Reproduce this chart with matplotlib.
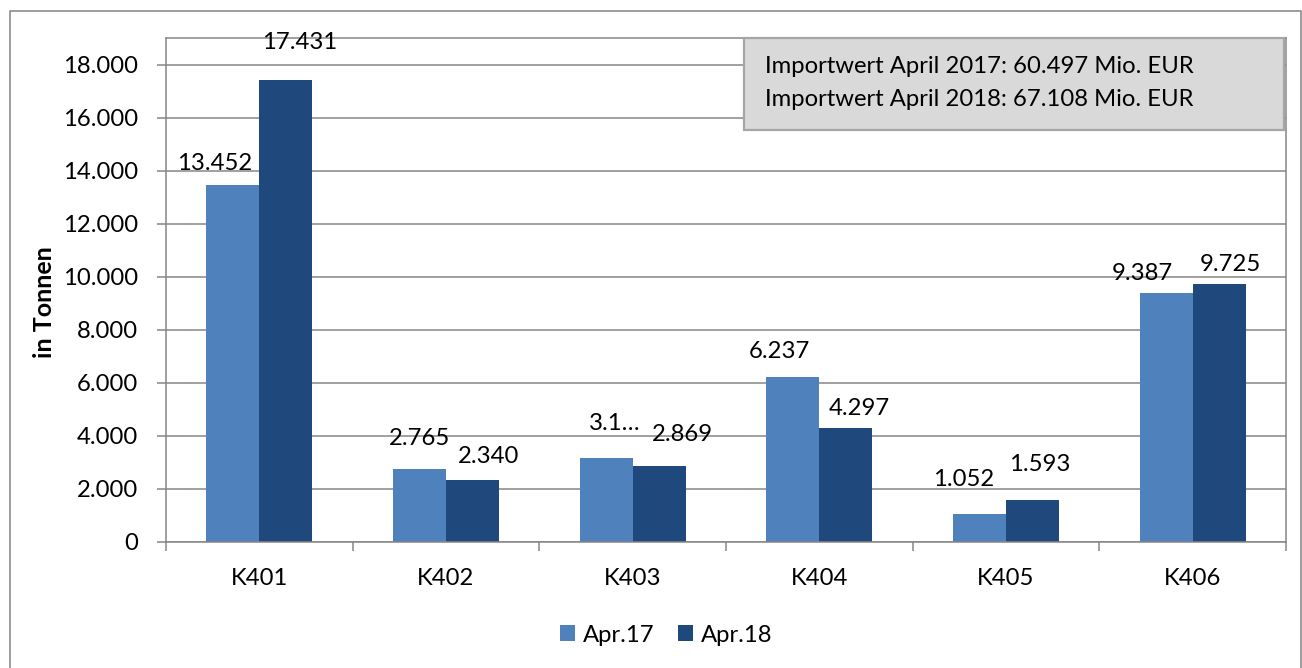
import matplotlib
matplotlib.use('Agg')
import matplotlib.pyplot as plt
import numpy as np
from matplotlib.patches import Rectangle
from matplotlib.lines import Line2D
from matplotlib.ticker import FixedLocator, FuncFormatter

# Calibri-ähnliche Schrift
plt.rcParams['font.family'] = ['Lato', 'DejaVu Sans']

kategorien = ['K401', 'K402', 'K403', 'K404', 'K405', 'K406']
apr17 = [13452, 2765, 3180, 6237, 1052, 9387]
apr18 = [17431, 2340, 2869, 4297, 1593, 9725]
beschriftung17 = ['13.452', '2.765', '3.1…', '6.237', '1.052', '9.387']
beschriftung18 = ['17.431', '2.340', '2.869', '4.297', '1.593', '9.725']
importwert = ['Importwert April 2017: 60.497 Mio. EUR',
              'Importwert April 2018: 67.108 Mio. EUR']
y_ticks = np.arange(0, 18001, 2000)

# Versatz der Datenbeschriftungen in Pixel (dx, dy)
versatz17 = [(-18, 15), (0, 24), (9, 28), (-13, 19), (-16, 28), (-24, 13)]
versatz18 = [(14, 31), (16, 17), (23, 25), (14, 13), (7, 29), (11, 13)]

W, H = 1302, 668
grau = '#868686'
fs = 17.2

fig = plt.figure(figsize=(W / 100, H / 100), dpi=100)
ax = fig.add_axes([166 / W, 1 - 542 / H, 1120 / W, 504 / H])

x = np.arange(len(kategorien))
b = 0.284
bars1 = ax.bar(x - b / 2, apr17, b, color='#4F81BD', label='Apr.17', zorder=2)
bars2 = ax.bar(x + b / 2, apr18, b, color='#1F497D', label='Apr.18', zorder=2)

ax.set_xlim(-0.5, 5.5)
ax.set_ylim(0, 19000)
ax.yaxis.set_major_locator(FixedLocator(y_ticks))
ax.yaxis.set_major_formatter(FuncFormatter(lambda v, p: f'{v:,.0f}'.replace(',', '.')))
ax.grid(axis='y', color=grau, lw=1.1, zorder=0)
ax.set_axisbelow(True)

ax.set_xticks(x)
ax.set_xticklabels(kategorien)
ax.set_xticks(np.arange(-0.5, 5.6, 1), minor=True)
ax.tick_params(axis='x', which='major', length=0, labelsize=fs, pad=19)
ax.tick_params(axis='x', which='minor', length=6.5, width=1.1, color=grau, direction='out')
ax.tick_params(axis='y', length=6.5, width=1.1, color=grau, direction='out',
               labelsize=fs, pad=13.5)
for s in ax.spines.values():
    s.set_color(grau)
    s.set_linewidth(1.1)

for bars, labs, offs in [(bars1, beschriftung17, versatz17), (bars2, beschriftung18, versatz18)]:
    for r, lab, (dx, dy) in zip(bars, labs, offs):
        ax.annotate(lab, (r.get_x() + r.get_width() / 2, r.get_height()),
                    xytext=(dx, dy), textcoords='offset pixels',
                    ha='center', va='baseline', fontsize=fs, zorder=4)

# Infobox
ax.add_patch(Rectangle(((744 - 166) / 1120, (542 - 130) / 504), 540 / 1120, 92 / 504,
                       transform=ax.transAxes, facecolor='#D9D9D9', edgecolor='#A6A6A6',
                       lw=1.6, zorder=5, clip_on=False))
fig.text(765 / W, 1 - 73 / H, importwert[0], fontsize=fs, va='baseline')
fig.text(765 / W, 1 - 106 / H, importwert[1], fontsize=fs, va='baseline')

fig.text(44 / W, 1 - 302 / H, 'in Tonnen', rotation=90, ha='center', va='center',
         fontsize=18, fontweight='bold')

fig.legend(handles=[bars1, bars2], loc='center', bbox_to_anchor=(666 / W, 1 - 635 / H),
           ncol=2, frameon=False, fontsize=fs, handlelength=0.64, handleheight=0.64,
           handletextpad=0.3, columnspacing=1.0)

# äußerer Rahmen
fig.add_artist(Line2D([9.5 / W, 9.5 / W, 1300.5 / W, 1300.5 / W],
                      [0, 1 - 11 / H, 1 - 11 / H, 0],
                      transform=fig.transFigure, color='#8C8C8C', lw=1.2))

fig.savefig('out.png', dpi=100)
